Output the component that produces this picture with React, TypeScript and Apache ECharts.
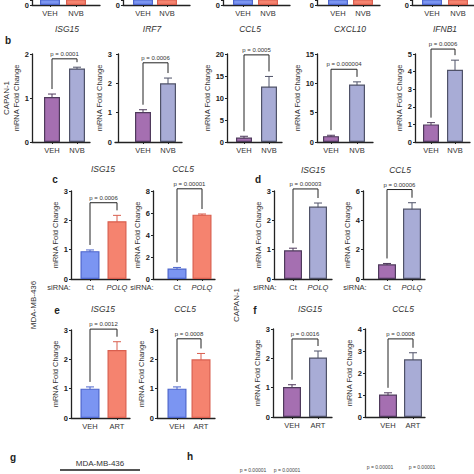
import React, { useEffect, useRef } from 'react';
import * as echarts from 'echarts';

const FONT = 'Liberation Sans, Arial, sans-serif';

// ---------- data ----------
const stripGenes = ['ISG15', 'IRF7', 'CCL5', 'CXCL10', 'IFNB1'];
const stripValues = [1, 2];
const trtNVB = ['VEH', 'NVB'];
const trtART = ['VEH', 'ART'];
const siRNA = ['Ct', 'POLQ'];

const bISG15 = [1.02, 1.67];
const bISG15Sd = [0.07, 0.03];
const bIRF7 = [1.02, 2.0];
const bIRF7Sd = [0.08, 0.18];
const bCCL5 = [1.0, 12.6];
const bCCL5Sd = [0.3, 2.3];
const bCXCL10 = [1.0, 9.8];
const bCXCL10Sd = [0.15, 0.45];
const bIFNB1 = [1.0, 4.1];
const bIFNB1Sd = [0.1, 0.55];
const bP = ['p = 0.0001', 'p = 0.0006', 'p = 0.0005', 'p = 0.000004', 'p = 0.0006'];

const cISG15 = [0.95, 1.97];
const cISG15Sd = [0.04, 0.2];
const cCCL5 = [0.95, 5.85];
const cCCL5Sd = [0.1, 0.06];
const cP = ['p = 0.0006', 'p = 0.00001'];

const dISG15 = [0.98, 2.47];
const dISG15Sd = [0.07, 0.12];
const dCCL5 = [1.0, 4.8];
const dCCL5Sd = [0.06, 0.4];
const dP = ['p = 0.00003', 'p = 0.00006'];

const eISG15 = [1.0, 2.32];
const eISG15Sd = [0.06, 0.28];
const eCCL5 = [1.0, 2.0];
const eCCL5Sd = [0.06, 0.2];
const eP = ['p = 0.0012', 'p = 0.0008'];

const fISG15 = [1.02, 2.03];
const fISG15Sd = [0.08, 0.22];
const fCCL5 = [1.02, 2.62];
const fCCL5Sd = [0.08, 0.3];
const fP = ['p = 0.0016', 'p = 0.0008'];

const hP = ['p = 0.00001', 'p = 0.00001', 'p = 0.00001', 'p = 0.00001'];

// ---------- styles ----------
const BLUE = '#7b95f2', BLUE_E = '#4d66cc';
const RED = '#f5836f', RED_E = '#d95f4f';
const PURPLE = '#a56fb1', PURPLE_E = '#4f3a5c';
const LAV = '#a8acd6', LAV_E = '#4f5268';
const MDA = { fills: [BLUE, RED], strokes: [BLUE_E, RED_E] };
const CAP = { fills: [PURPLE, LAV], strokes: [PURPLE_E, LAV_E] };

type Panel = {
  left: number; right: number; c1: number; c2: number; top: number; bottom: number;
  yMax: number; yInt: number; cats: string[]; means: number[]; sds?: number[];
  fills: string[]; strokes: string[]; p?: string; level?: number; barW: number;
  nameGap?: number; strip?: boolean;
};

const stripLayout = [
  [32, 100, 50, 76], [123, 190, 143, 167], [223, 290, 243, 268], [317, 380, 338, 363], [412, 474, 432, 458],
];

const panels: Panel[] = [
  ...stripLayout.map((l) => ({
    left: l[0], right: l[1], c1: l[2], c2: l[3], top: 0, bottom: 5, yMax: 0.2, yInt: 0.2,
    cats: trtNVB, means: stripValues, ...MDA, barW: 20, strip: true,
  })),
  { left: 32, right: 90, c1: 52, c2: 77, top: 54, bottom: 142, yMax: 2, yInt: 1, cats: trtNVB, means: bISG15, sds: bISG15Sd, ...CAP, p: bP[0], level: 1.89, barW: 16, nameGap: 9 },
  { left: 115, right: 182, c1: 143, c2: 168, top: 54, bottom: 142, yMax: 3, yInt: 1, cats: trtNVB, means: bIRF7, sds: bIRF7Sd, ...CAP, p: bP[1], level: 2.7, barW: 16, nameGap: 9 },
  { left: 227, right: 282, c1: 244, c2: 269, top: 54, bottom: 142, yMax: 20, yInt: 5, cats: trtNVB, means: bCCL5, sds: bCCL5Sd, ...CAP, p: bP[2], level: 19.8, barW: 16, nameGap: 13 },
  { left: 317, right: 373, c1: 331, c2: 357, top: 54, bottom: 142, yMax: 15, yInt: 5, cats: trtNVB, means: bCXCL10, sds: bCXCL10Sd, ...CAP, p: bP[3], level: 12.4, barW: 16, nameGap: 13 },
  { left: 415, right: 470, c1: 431, c2: 455, top: 54, bottom: 142, yMax: 5, yInt: 1, cats: trtNVB, means: bIFNB1, sds: bIFNB1Sd, ...CAP, p: bP[4], level: 5.28, barW: 16, nameGap: 9 },
  { left: 71, right: 130, c1: 90, c2: 117, top: 191, bottom: 279, yMax: 3, yInt: 1, cats: siRNA, means: cISG15, sds: cISG15Sd, ...MDA, p: cP[0], level: 2.6, barW: 19, nameGap: 9 },
  { left: 153, right: 215, c1: 177, c2: 202, top: 191, bottom: 279, yMax: 8, yInt: 2, cats: siRNA, means: cCCL5, sds: cCCL5Sd, ...MDA, p: cP[1], level: 8.2, barW: 19, nameGap: 9 },
  { left: 274, right: 332, c1: 293, c2: 318, top: 191, bottom: 279, yMax: 3, yInt: 1, cats: siRNA, means: dISG15, sds: dISG15Sd, ...CAP, p: dP[0], level: 3.07, barW: 18, nameGap: 9 },
  { left: 363, right: 425, c1: 387, c2: 412, top: 191, bottom: 279, yMax: 6, yInt: 2, cats: siRNA, means: dCCL5, sds: dCCL5Sd, ...CAP, p: dP[1], level: 6.1, barW: 18, nameGap: 9 },
  { left: 71, right: 130, c1: 90, c2: 117, top: 330, bottom: 418, yMax: 3, yInt: 1, cats: trtART, means: eISG15, sds: eISG15Sd, ...MDA, p: eP[0], level: 3.03, barW: 19, nameGap: 9 },
  { left: 157, right: 215, c1: 177, c2: 201, top: 330, bottom: 418, yMax: 3, yInt: 1, cats: trtART, means: eCCL5, sds: eCCL5Sd, ...MDA, p: eP[1], level: 2.7, barW: 19, nameGap: 9 },
  { left: 273, right: 332, c1: 292, c2: 318, top: 329, bottom: 417, yMax: 3, yInt: 1, cats: trtART, means: fISG15, sds: fISG15Sd, ...CAP, p: fP[0], level: 2.66, barW: 18, nameGap: 9 },
  { left: 365, right: 425, c1: 388, c2: 413, top: 329, bottom: 417, yMax: 4, yInt: 1, cats: trtART, means: fCCL5, sds: fCCL5Sd, ...CAP, p: fP[1], level: 3.55, barW: 18, nameGap: 9 },
];

const txt = (text: string, x: number, y: number, o: any = {}) => ({
  type: 'text', x, y, rotation: o.rotation || 0, silent: true,
  style: {
    text, fontSize: o.size || 7, fontFamily: FONT, fill: o.color || '#222',
    fontWeight: o.bold ? 'bold' : 'normal', fontStyle: o.italic ? 'italic' : 'normal',
    align: o.align || 'center', verticalAlign: 'middle', textAlign: o.align || 'center', textVerticalAlign: 'middle',
  },
});

function buildOption() {
  const grid: any[] = [];
  const xAxis: any[] = [];
  const yAxis: any[] = [];
  const series: any[] = [];
  panels.forEach((p, i) => {
    const u = p.c2 - p.c1;
    const xmin = 1 - (p.c1 - p.left) / u;
    const xmax = xmin + (p.right - p.left) / u;
    grid.push({ left: p.left, top: p.top, width: p.right - p.left, height: p.bottom - p.top, containLabel: false });
    xAxis.push({
      type: 'value', gridIndex: i, min: xmin, max: xmax, splitLine: { show: false },
      axisLine: { show: true, onZero: false, lineStyle: { color: '#222', width: 1.3 } },
      axisTick: { show: true, length: 2, customValues: [1, 2], lineStyle: { color: '#222' } },
      axisLabel: {
        customValues: [1, 2], fontSize: 7.5, color: '#333', margin: 4, fontFamily: FONT,
        formatter: (v: number) => {
          const c = p.cats[Math.round(v) - 1] || '';
          return c === 'POLQ' ? '{i|POLQ}' : c;
        },
        rich: { i: { fontStyle: 'italic', fontSize: 7.5, color: '#333', fontFamily: FONT } },
      },
    });
    yAxis.push({
      type: 'value', gridIndex: i, min: 0, max: p.yMax, interval: p.yInt,
      splitLine: { show: false },
      axisLine: { show: true, lineStyle: { color: '#222', width: 1.3 } },
      axisTick: { show: true, length: 2, lineStyle: { color: '#222' } },
      axisLabel: {
        fontSize: 7.5, fontWeight: 'bold', color: '#222', margin: 3, fontFamily: FONT,
        formatter: (v: number) => (p.strip && v !== 0 ? '' : String(v)),
      },
      name: p.strip ? '' : 'mRNA Fold Change', nameLocation: 'middle', nameGap: p.nameGap || 9,
      nameTextStyle: { fontSize: 7.5, color: '#333', fontFamily: FONT },
    });
    series.push({
      type: 'bar', xAxisIndex: i, yAxisIndex: i, barWidth: p.barW, clip: true,
      data: p.means.map((m, k) => ({ value: [k + 1, m], itemStyle: { color: p.fills[k], borderColor: p.strokes[k], borderWidth: 1.2 } })),
    });
    if (p.sds) {
      const sds = p.sds;
      series.push({
        type: 'custom', xAxisIndex: i, yAxisIndex: i, clip: false,
        data: p.means.map((m, k) => [k + 1, m, sds[k], k]),
        renderItem: (_: any, api: any) => {
          const x = api.value(0), m = api.value(1), s = api.value(2), k = api.value(3);
          const hi = api.coord([x, m + s]);
          const lo = api.coord([x, m - s]);
          const st = { stroke: p.strokes[k], lineWidth: 1 };
          return {
            type: 'group', children: [
              { type: 'line', shape: { x1: hi[0], y1: hi[1], x2: lo[0], y2: lo[1] }, style: st },
              { type: 'line', shape: { x1: hi[0] - 4, y1: hi[1], x2: hi[0] + 4, y2: hi[1] }, style: st },
              { type: 'line', shape: { x1: lo[0] - 4, y1: lo[1], x2: lo[0] + 4, y2: lo[1] }, style: st },
            ],
          };
        },
      });
      series.push({
        type: 'custom', xAxisIndex: i, yAxisIndex: i, clip: false,
        data: [[1, 2, p.level, p.means[0] + sds[0], p.means[1] + sds[1]]],
        renderItem: (_: any, api: any) => {
          const a = api.coord([api.value(0), api.value(2)]);
          const b = api.coord([api.value(1), api.value(2)]);
          const l = api.coord([api.value(0), api.value(3)]);
          const r = api.coord([api.value(1), api.value(4)]);
          return {
            type: 'group', children: [
              { type: 'polyline', shape: { points: [[a[0], l[1] - 5], a, b, [b[0], r[1] - 5]] }, style: { stroke: '#222', lineWidth: 1, fill: null } },
              { type: 'text', style: { text: p.p, x: (a[0] + b[0]) / 2, y: a[1] - 2, align: 'center', verticalAlign: 'bottom', fontSize: 6, fill: '#333', fontFamily: FONT } },
            ],
          };
        },
      });
    }
  });

  const graphic: any[] = [
    ...stripGenes.map((g, i) => txt(g, [67, 152, 250, 350, 445][i], 29, { size: 8.5, italic: true, color: '#333' })),
    txt('b', 8, 40, { size: 10, bold: true }),
    txt('c', 55, 179, { size: 10, bold: true }),
    txt('d', 258, 179, { size: 10, bold: true }),
    txt('e', 57, 310, { size: 10, bold: true }),
    txt('f', 255, 310, { size: 10, bold: true }),
    txt('g', 13, 457, { size: 10, bold: true }),
    txt('h', 190, 456, { size: 10, bold: true }),
    txt('CAPAN-1', 6, 98, { size: 8, rotation: Math.PI / 2, color: '#333' }),
    txt('MDA-MB-436', 33, 305, { size: 8, rotation: Math.PI / 2, color: '#333' }),
    txt('CAPAN-1', 236, 305, { size: 8, rotation: Math.PI / 2, color: '#333' }),
    txt('ISG15', 103, 169, { size: 8.5, italic: true, color: '#333' }),
    txt('CCL5', 183, 169, { size: 8.5, italic: true, color: '#333' }),
    txt('ISG15', 313, 170, { size: 8.5, italic: true, color: '#333' }),
    txt('CCL5', 400, 170, { size: 8.5, italic: true, color: '#333' }),
    txt('ISG15', 103, 309, { size: 8.5, italic: true, color: '#333' }),
    txt('CCL5', 185, 309, { size: 8.5, italic: true, color: '#333' }),
    txt('ISG15', 310, 309, { size: 8.5, italic: true, color: '#333' }),
    txt('CCL5', 403, 309, { size: 8.5, italic: true, color: '#333' }),
    txt('siRNA:', 59, 287, { size: 7.5, color: '#333' }),
    txt('siRNA:', 142, 287, { size: 7.5, color: '#333' }),
    txt('siRNA:', 265, 287, { size: 7.5, color: '#333' }),
    txt('siRNA:', 355, 287, { size: 7.5, color: '#333' }),
    txt('MDA-MB-436', 100, 463, { size: 8, color: '#333' }),
    { type: 'line', silent: true, shape: { x1: 60, y1: 470, x2: 140, y2: 470 }, style: { stroke: '#555', lineWidth: 2 } },
    txt(hP[0], 253, 470, { size: 5, color: '#444' }),
    txt(hP[1], 287, 470, { size: 5, color: '#444' }),
    txt(hP[2], 380, 467, { size: 5, color: '#444' }),
    txt(hP[3], 422, 467, { size: 5, color: '#444' }),
  ];

  return { animation: false, backgroundColor: '#fff', grid, xAxis, yAxis, series, graphic };
}

export default function App() {
  const ref = useRef<HTMLDivElement>(null);
  useEffect(() => {
    if (!ref.current) return;
    const chart = echarts.init(ref.current, undefined, { renderer: 'svg' });
    chart.setOption(buildOption() as any);
    return () => chart.dispose();
  }, []);
  return <div ref={ref} style={{ position: 'fixed', left: 0, top: 0, width: 474, height: 474, background: '#fff' }} />;
}
